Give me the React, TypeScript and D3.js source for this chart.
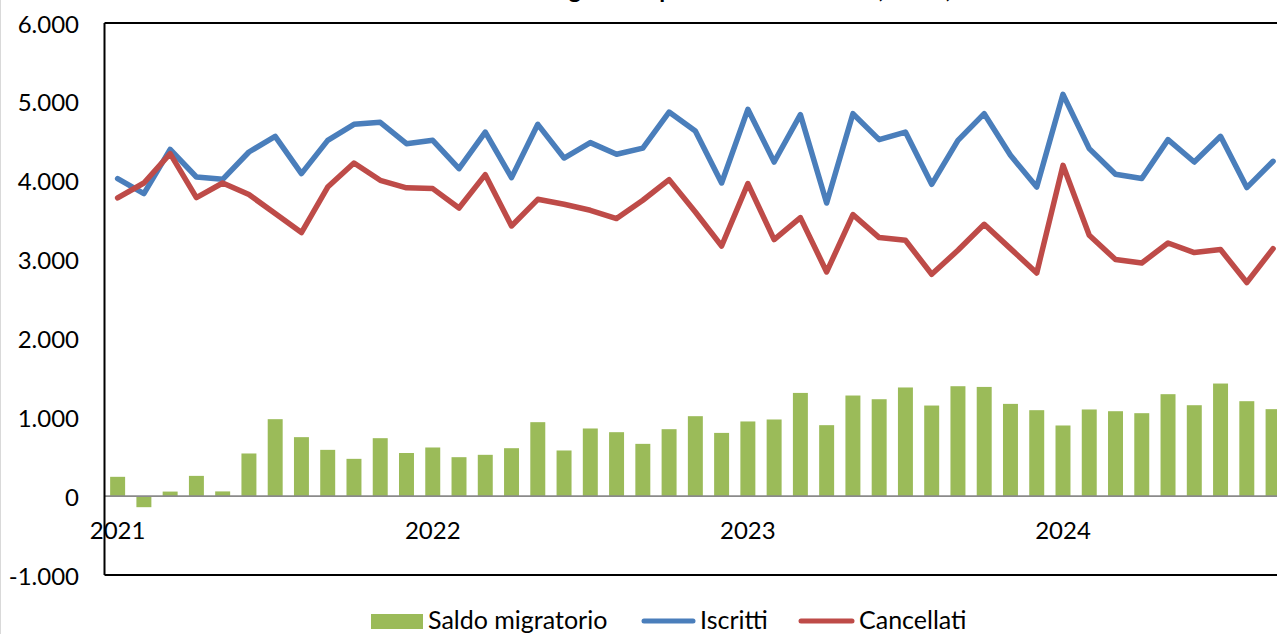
import React from "react";
import * as d3 from "d3";

// ---- data (Jan 2021 - Sep 2024, monthly) ----
const months = [
  "2021-01","2021-02","2021-03","2021-04","2021-05","2021-06","2021-07","2021-08","2021-09","2021-10","2021-11","2021-12",
  "2022-01","2022-02","2022-03","2022-04","2022-05","2022-06","2022-07","2022-08","2022-09","2022-10","2022-11","2022-12",
  "2023-01","2023-02","2023-03","2023-04","2023-05","2023-06","2023-07","2023-08","2023-09","2023-10","2023-11","2023-12",
  "2024-01","2024-02","2024-03","2024-04","2024-05","2024-06","2024-07","2024-08","2024-09",
];

const saldoMigratorio = [
  245, -140, 58, 257, 60, 541, 976, 748, 587, 473, 735, 547,
  617, 494, 524, 608, 938, 579, 858, 811, 663, 849, 1014, 802,
  947, 972, 1309, 900, 1276, 1229, 1378, 1149, 1394, 1385, 1170, 1090,
  896, 1099, 1077, 1052, 1293, 1153, 1428, 1204, 1103,
];

const iscritti = [
  4027, 3837, 4398, 4047, 4018, 4364, 4563, 4090, 4512, 4715, 4740, 4470,
  4512, 4153, 4617, 4039, 4715, 4288, 4483, 4335, 4414, 4871, 4630, 3971,
  4905, 4237, 4838, 3717, 4850, 4521, 4617, 3954, 4512, 4850, 4322, 3920,
  5095, 4407, 4081, 4027, 4521, 4237, 4563, 3913, 4246,
];

const cancellati = [
  3781, 3971, 4343, 3786, 3971, 3824, 3583, 3342, 3920, 4224, 4005, 3910,
  3900, 3654, 4077, 3426, 3764, 3701, 3625, 3520, 3752, 4014, 3603, 3172,
  3963, 3253, 3532, 2843, 3570, 3279, 3245, 2814, 3118, 3447, 3139, 2830,
  4195, 3308, 3000, 2957, 3210, 3089, 3127, 2709, 3139,
];

const yearLabels = ["2021", "2022", "2023", "2024"];
const yearStartMonths = ["2021-01", "2022-01", "2023-01", "2024-01"];
const yTicks = [-1000, 0, 1000, 2000, 3000, 4000, 5000, 6000];

const seriesNames = ["Saldo migratorio", "Iscritti", "Cancellati"];
const title = "Saldo migratorio per mese. Anni 2021, 2022, 2023 e 2024";

// ---- style ----
const W = 1277;
const H = 634;
const FONT = "Lato, 'Open Sans', sans-serif";
const GREEN = "#9BBB59";
const BLUE = "#4A7EBB";
const RED = "#BE4B48";

const plotLeft = 104.5;
const step = 26.26;
const plotRight = plotLeft + months.length * step;
const plotTop = 23;
const plotBottom = 575;

const locale = d3.formatLocale({
  decimal: ",",
  thousands: ".",
  grouping: [3],
  currency: ["€", ""],
  minus: "-",
});
const fmt = locale.format(",d");

export default function App() {
  const x = d3
    .scaleBand<string>()
    .domain(months)
    .range([plotLeft, plotRight])
    .paddingInner(0.43)
    .paddingOuter(0.215);
  const y = d3.scaleLinear().domain([-1000, 6000]).range([plotBottom, plotTop]);
  const cx = (m: string) => (x(m) as number) + x.bandwidth() / 2;

  const line = d3
    .line<number>()
    .x((_, i) => cx(months[i]))
    .y((d) => y(d));

  return (
    <svg
      width={W}
      height={H}
      style={{ position: "absolute", left: 0, top: 0, background: "#fff" }}
      fontFamily={FONT}
    >
      <rect x={0} y={0} width={W} height={H} fill="#fff" />
      <line x1={0.5} x2={0.5} y1={0} y2={H} stroke="#d9d9d9" strokeWidth={1} />

      {/* title (cropped at the top, as in the source) */}
      <text x={478} y={-2} fontSize={24} fontWeight="bold" fill="#000">
        {title}
      </text>

      {/* bars */}
      {saldoMigratorio.map((v, i) => (
        <rect
          key={months[i]}
          x={x(months[i])}
          width={x.bandwidth()}
          y={Math.min(y(v), y(0))}
          height={Math.abs(y(v) - y(0))}
          fill={GREEN}
        />
      ))}

      {/* zero line */}
      <line x1={plotLeft} x2={plotRight} y1={y(0)} y2={y(0)} stroke="#8a8a8a" strokeWidth={1.75} />

      {/* lines */}
      <path d={line(iscritti) || ""} fill="none" stroke={BLUE} strokeWidth={5.5} strokeLinejoin="round" strokeLinecap="round" />
      <path d={line(cancellati) || ""} fill="none" stroke={RED} strokeWidth={5.5} strokeLinejoin="round" strokeLinecap="round" />

      {/* frame */}
      <line x1={plotLeft} x2={plotRight} y1={plotTop} y2={plotTop} stroke="#000" strokeWidth={2} />
      <line x1={plotLeft} x2={plotRight} y1={plotBottom} y2={plotBottom} stroke="#000" strokeWidth={2} />
      <line x1={plotLeft} x2={plotLeft} y1={plotTop} y2={plotBottom} stroke="#000" strokeWidth={2} />

      {/* y axis labels */}
      {yTicks.map((t) => (
        <text key={t} x={79} y={y(t)} textAnchor="end" dominantBaseline="central" fontSize={24} fill="#000">
          {fmt(t)}
        </text>
      ))}

      {/* x axis labels */}
      {yearLabels.map((lab, i) => (
        <text key={lab} x={cx(yearStartMonths[i])} y={539} textAnchor="middle" fontSize={24} fill="#000">
          {lab}
        </text>
      ))}

      {/* legend */}
      <rect x={371} y={614} width={52} height={15} fill={GREEN} />
      <text x={428} y={629} fontSize={25} fill="#000">{seriesNames[0]}</text>
      <line x1={644} x2={693} y1={621} y2={621} stroke={BLUE} strokeWidth={5} strokeLinecap="round" />
      <text x={700} y={629} fontSize={25} fill="#000">{seriesNames[1]}</text>
      <line x1={801} x2={852} y1={621} y2={621} stroke={RED} strokeWidth={5} strokeLinecap="round" />
      <text x={859} y={629} fontSize={25} fill="#000">{seriesNames[2]}</text>
    </svg>
  );
}
